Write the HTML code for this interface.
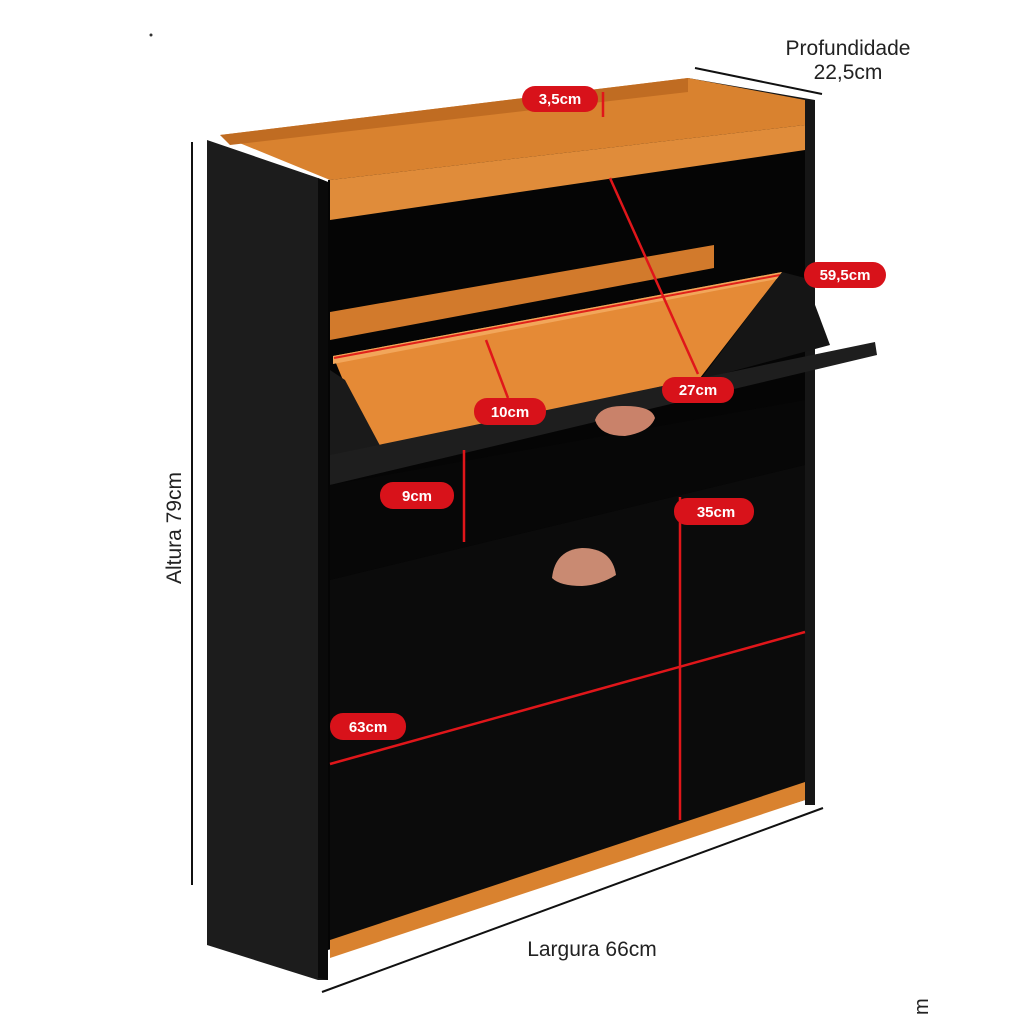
<!DOCTYPE html>
<html><head><meta charset="utf-8"><style>
html,body{margin:0;padding:0;background:#fff;}
svg{display:block}
text{font-family:"Liberation Sans",sans-serif;}
</style></head><body>
<svg width="1024" height="1024" viewBox="0 0 1024 1024" xmlns="http://www.w3.org/2000/svg">
<rect width="1024" height="1024" fill="#fff"/>
<circle cx="151" cy="35" r="1.5" fill="#333"/>
<!-- right side panel top -->
<polygon points="688,78 815,100 815,805 805,805 805,110 688,90" fill="#161616"/>
<!-- interior back -->
<polygon points="328,180 805,120 805,800 328,950" fill="#050505"/>
<!-- top board surface -->
<polygon points="220,135 688,78 805,100 805,125 330,180" fill="#d9822f"/>
<polygon points="220,135 688,78 688,92 230,145" fill="#c06c22"/>
<!-- top board front face -->
<polygon points="330,180 805,125 805,150 330,220" fill="#e08c3a"/>
<!-- left side panel -->
<polygon points="207,140 318,178 328,182 328,980 318,980 207,945" fill="#1c1c1c"/>
<polygon points="318,178 328,182 328,980 318,978" fill="#0a0a0a"/>
<!-- flap back panel -->
<polygon points="330,312 714,245 714,268 330,340" fill="#d27a2c"/>
<!-- flap inner face -->
<polygon points="333,356 782,272 700,378 372,450" fill="#e58a36"/>
<polygon points="333,356 782,272 782,278 333,364" fill="#f2a65a"/>
<line x1="334" y1="358" x2="780" y2="275" stroke="#e0221a" stroke-width="2"/>
<!-- flap side dark -->
<polygon points="782,272 805,278 830,345 700,380" fill="#151515"/>
<polygon points="330,370 345,380 385,455 330,470" fill="#1a1a1a"/>
<!-- black flap lip -->
<polygon points="330,455 875,342 877,355 330,485" fill="#1e1e1e"/>
<!-- upper drawer front -->
<polygon points="330,485 805,400 805,465 330,580" fill="#070707"/>
<!-- lower door -->
<polygon points="330,580 805,465 805,782 330,940" fill="#0b0b0b"/>
<!-- plinth -->
<polygon points="330,940 805,782 805,800 330,958" fill="#d9822f"/>
<!-- handles -->
<path d="M595,420 Q600,405 625,406 Q652,406 655,418 Q650,432 625,436 Q600,436 595,420Z" fill="#c9826a"/>
<path d="M552,578 Q555,550 582,548 Q612,548 616,575 Q600,585 582,586 Q560,586 552,578Z" fill="#c98a72"/>
<!-- red lines -->
<g stroke="#e0161a" stroke-width="2.5" fill="none">
<line x1="603" y1="92" x2="603" y2="117"/>
<line x1="610" y1="178" x2="698" y2="374"/>
<line x1="486" y1="340" x2="508" y2="398"/>
<line x1="464" y1="450" x2="464" y2="542"/>
<line x1="680" y1="497" x2="680" y2="820"/>
<line x1="330" y1="764" x2="805" y2="632"/>
</g>
<!-- dimension lines black -->
<g stroke="#111" stroke-width="2">
<line x1="192" y1="142" x2="192" y2="885"/>
<line x1="695" y1="68" x2="822" y2="94"/>
<line x1="322" y1="992" x2="823" y2="808"/>
</g>
<!-- red labels -->
<g font-size="15" font-weight="bold" fill="#fff" text-anchor="middle">
<rect x="522" y="86" width="76" height="26" rx="13" fill="#d8121a"/><text x="560" y="104">3,5cm</text>
<rect x="804" y="262" width="82" height="26" rx="13" fill="#d8121a"/><text x="845" y="280">59,5cm</text>
<rect x="662" y="377" width="72" height="26" rx="13" fill="#d8121a"/><text x="698" y="395">27cm</text>
<rect x="474" y="398" width="72" height="27" rx="13" fill="#d8121a"/><text x="510" y="417">10cm</text>
<rect x="380" y="482" width="74" height="27" rx="13" fill="#d8121a"/><text x="417" y="501">9cm</text>
<rect x="674" y="498" width="80" height="27" rx="13" fill="#d8121a"/><text x="716" y="517">35cm</text>
<rect x="330" y="713" width="76" height="27" rx="13" fill="#d8121a"/><text x="368" y="732">63cm</text>
</g>
<g fill="#222" font-size="21">
<text x="848" y="55" text-anchor="middle">Profundidade</text>
<text x="848" y="79" text-anchor="middle">22,5cm</text>
<text x="592" y="956" text-anchor="middle">Largura 66cm</text>
<text transform="translate(181,528) rotate(-90)" text-anchor="middle">Altura 79cm</text>
</g>
<text transform="translate(928,1015) rotate(-90)" font-size="20" fill="#222">m</text>
</svg>
</body></html>
